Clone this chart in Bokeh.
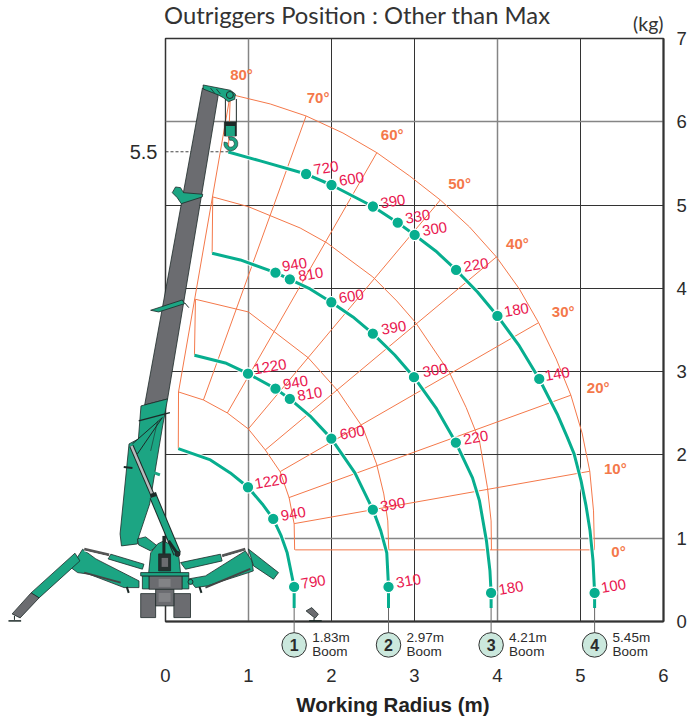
from bokeh.embed import file_html
from bokeh.resources import INLINE
from bokeh.plotting import figure
from bokeh.models import LinearAxis, FixedTicker, Grid, Range1d
from bokeh.core.properties import value

# ---------- chart values (metres) ----------
chart_title = "Outriggers Position : Other than Max"
x_ticks = [0, 1, 2, 3, 4, 5, 6]
y_ticks = [0, 1, 2, 3, 4, 5, 6, 7]
hook_height_mark = 5.64
hook_height_label = "5.5"
hook_radius = 0.757

boom_names = ["1", "2", "3", "4"]
boom_lengths = ["1.83m", "2.97m", "4.21m", "5.45m"]
boom_radius = [1.55, 2.687, 3.923, 5.17]
boom_badge_y = [-0.281, -0.281, -0.281, -0.281]

arc1_x = [.154, .541, .781, .994, 1.166, 1.298, 1.394, 1.466, 1.55, 1.55]
arc1_y = [2.076, 1.94, 1.784, 1.612, 1.412, 1.232, 1.028, .824, .415, .163]
arc2_x = [.349, .721, .994, 1.325, 1.498, 1.754, 1.998, 2.282, 2.498, 2.594, 2.666, 2.687, 2.687]
arc2_y = [3.197, 3.104, 2.976, 2.796, 2.672, 2.456, 2.196, 1.784, 1.343, 1.088, .824, .415, .163]
arc3_x = [.562, .902, 1.325, 1.498, 1.742, 1.998, 2.258, 2.498, 2.762, 2.994, 3.267, 3.498, 3.699, 3.783, 3.867, 3.909, 3.923, 3.923]
arc3_y = [4.421, 4.341, 4.188, 4.109, 3.993, 3.833, 3.657, 3.456, 3.2, 2.933, 2.552, 2.148, 1.724, 1.448, .968, .607, .343, .163]
arc4_x = [.757, 1.142, 1.694, 2.0, 2.499, 2.798, 3.002, 3.255, 3.501, 3.759, 3.999, 4.263, 4.503, 4.719, 4.839, 4.923, 5.007, 5.067, 5.115, 5.151, 5.17, 5.17]
arc4_y = [5.637, 5.53, 5.373, 5.241, 4.983, 4.789, 4.641, 4.449, 4.221, 3.957, 3.669, 3.309, 2.912, 2.492, 2.216, 2.012, 1.688, 1.388, 1.088, .727, .343, .163]

point_x = [.994, 1.298, 1.55,
           .994, 1.325, 1.498, 1.998, 2.498, 2.687,
           1.325, 1.498, 1.998, 2.498, 2.994, 3.498, 3.923,
           1.694, 2.0, 2.499, 2.798, 3.002, 3.501, 3.999, 4.503, 5.17]
point_y = [1.612, 1.232, .415,
           2.976, 2.796, 2.672, 2.196, 1.343, .415,
           4.188, 4.109, 3.833, 3.456, 2.933, 2.148, .343,
           5.373, 5.241, 4.983, 4.789, 4.641, 4.221, 3.669, 2.912, .343]
point_load = ["1220", "940", "790",
              "1220", "940", "810", "600", "390", "310",
              "940", "810", "600", "390", "300", "220", "180",
              "720", "600", "390", "330", "300", "220", "180", "140", "100"]
label_dx = [23, 20, 19,
            22, 20, 20, 21, 20, 20,
            19, 21, 20, 21, 21, 20, 20,
            20, 20, 20, 20, 20, 20, 19, 18, 19]
label_dy = [-6, -5, -5,
            -7, -6, -5, -6, -5, -6,
            -8, -5, -6, -6, -7, -5, -5,
            -6, -6, -5, -6, -6, -5, -6, -5, -7]

angle_names = ["0°", "10°", "20°", "30°", "40°", "50°", "60°", "70°", "80°"]
angle_x = [5.371, 5.283, 5.076, 4.655, 4.103, 3.407, 2.594, 1.702, .779]
angle_y = [.836, 1.836, 2.804, 3.72, 4.541, 5.262, 5.842, 6.289, 6.562]
spoke_x0 = [1.562, 1.55, 1.486, 1.382, 1.202, .998, .745, .457, .157]
spoke_y0 = [.86, 1.175, 1.487, 1.8, 2.06, 2.312, 2.504, 2.66, 2.756]
spoke_x1 = [5.168, 5.112, 4.884, 4.495, 3.987, 3.311, 2.546, 1.694, .781]
spoke_y1 = [.86, 1.804, 2.717, 3.588, 4.377, 5.061, 5.629, 6.07, 6.33]

guide1_x = [.154, .157, .457, .745, .998, 1.202, 1.382, 1.49, 1.55, 1.556]
guide1_y = [2.076, 2.756, 2.66, 2.504, 2.312, 2.06, 1.797, 1.484, 1.172, .86]
guide2_x = [.349, .361, .998, 1.298, 1.718, 2.078, 2.378, 2.543, 2.63, 2.678, 2.69]
guide2_y = [3.197, 3.869, 3.717, 3.489, 3.168, 2.768, 2.328, 1.892, 1.532, 1.208, .86]
guide3_x = [.562, .569, .998, 1.622, 1.946, 2.498, 2.786, 3.014, 3.422, 3.623, 3.783, 3.879, 3.923, 3.927]
guide3_y = [4.421, 5.098, 4.981, 4.725, 4.545, 4.137, 3.849, 3.588, 2.988, 2.568, 2.168, 1.607, 1.208, .86]
guide4_x = [.757, .781, 1.262, 1.694, 2.138, 2.546, 2.942, 3.311, 3.663, 3.987, 4.263, 4.495, 4.707, 4.884, 5.019, 5.112, 5.157, 5.168]
guide4_y = [5.637, 6.33, 6.214, 6.07, 5.865, 5.629, 5.349, 5.061, 4.737, 4.377, 3.993, 3.588, 3.152, 2.717, 2.264, 1.804, 1.328, .86]

# ---------- styles ----------
GREEN = "#07AE8F"
RED = "#E9174F"
ORANGE = "#F4784A"
INK = "#2B2B2B"
GRIDDARK = "#333333"
GRIDGREY = "#858585"
BODY = "#1CA583"
STEEL = "#6B6C70"
OUT = "#1D2A28"
SANS = "Liberation Sans"

p = figure(width=689, height=720, output_backend="svg", toolbar_location=None,
           x_range=Range1d(0, 6), y_range=Range1d(0, 7), y_axis_location="right",
           min_border_left=165, min_border_right=24, min_border_top=38, min_border_bottom=99,
           background_fill_color="white", border_fill_color="white")
p.grid.visible = False
p.outline_line_color = GRIDDARK
p.outline_line_width = 1.5

for dim, dark, grey in [(0, [2, 3, 5], [1, 4]), (1, [2, 3, 4, 5], [1, 6])]:
    p.add_layout(Grid(dimension=dim, ticker=FixedTicker(ticks=dark), grid_line_color=GRIDDARK, grid_line_width=1))
    p.add_layout(Grid(dimension=dim, ticker=FixedTicker(ticks=grey), grid_line_color=GRIDGREY, grid_line_width=1.5))

xax = p.xaxis[0]
xax.ticker = FixedTicker(ticks=x_ticks)
xax.major_tick_line_color = None
xax.minor_tick_line_color = None
xax.major_tick_out = 0
xax.major_tick_in = 0
xax.axis_line_color = GRIDDARK
xax.axis_line_width = 2
xax.major_label_standoff = 47
xax.major_label_text_font = SANS
xax.major_label_text_font_size = "18.5px"
xax.major_label_text_color = INK

yax = p.yaxis[0]
yax.ticker = FixedTicker(ticks=y_ticks)
yax.major_tick_line_color = None
yax.minor_tick_line_color = None
yax.major_tick_out = 0
yax.major_tick_in = 0
yax.axis_line_color = GRIDDARK
yax.axis_line_width = 2
yax.major_label_standoff = 13
yax.major_label_text_font = SANS
yax.major_label_text_font_size = "18.5px"
yax.major_label_text_color = INK

left = LinearAxis(ticker=FixedTicker(ticks=[hook_height_mark]),
                  major_label_overrides={hook_height_mark: hook_height_label},
                  axis_line_color=None, major_tick_line_color=None, minor_tick_line_color=None,
                  major_tick_out=0, major_tick_in=0,
                  major_label_standoff=8, major_label_text_font=SANS,
                  major_label_text_font_size="20px", major_label_text_color=INK)
p.add_layout(left, "left")

# guide web
p.segment(spoke_x0, spoke_y0, spoke_x1, spoke_y1, line_color=ORANGE, line_width=1)
for gx, gy in [(guide1_x, guide1_y), (guide2_x, guide2_y), (guide3_x, guide3_y), (guide4_x, guide4_y)]:
    p.line(gx, gy, line_color=ORANGE, line_width=1)

p.segment([0], [hook_height_mark], [hook_radius], [hook_height_mark], line_color="#444444", line_width=1, line_dash="3 2")

# working radius arcs
for ax, ay in [(arc1_x, arc1_y), (arc2_x, arc2_y), (arc3_x, arc3_y), (arc4_x, arc4_y)]:
    p.line(ax, ay, line_color="white", line_width=5, line_alpha=0.85)
for ax, ay in [(arc1_x, arc1_y), (arc2_x, arc2_y), (arc3_x, arc3_y), (arc4_x, arc4_y)]:
    p.line(ax, ay, line_color=GREEN, line_width=3, line_join="round")

p.scatter(point_x, point_y, size=11.5, fill_color=GREEN, line_color="white", line_width=1.2)
p.text(point_x, point_y, text=point_load, x_offset=label_dx, y_offset=label_dy, angle=0.17,
       text_align="center", text_baseline="middle", text_color=RED,
       text_font=value(SANS), text_font_size="15px")
p.text(angle_x, angle_y, text=angle_names, text_align="left", text_baseline="middle",
       text_color=ORANGE, text_font=value(SANS), text_font_style="bold", text_font_size="15px")
p.text([6.0], [7.18], text=["(kg)"], text_align="right", text_baseline="middle",
       text_color="#333333", text_font=value("Lato"), text_font_size="19.5px", level="overlay")
p.text([-0.017], [7.28], text=[chart_title], text_align="left", text_baseline="middle",
       text_color="#333333", text_font=value("Lato"), text_font_size="23.8px", level="overlay")

# ---------- crane illustration (traced outline, reference picture pixels -> metres) ----------
def mx(v):
    return [(a - 164.9) / 83.3 for a in v]
def my(v):
    return [(620.6 - a) / 83.3 for a in v]

def poly(pts, fill, line=OUT, w=0.8):
    p.patch(mx(pts[0::2]), my(pts[1::2]), fill_color=fill, line_color=line, line_width=w, level="overlay")
def seg(pts, color=OUT, w=1.0):
    p.line(mx(pts[0::2]), my(pts[1::2]), line_color=color, line_width=w, level="overlay")
def dot(cx, cy, size, fill=BODY, line=OUT, w=1.0):
    p.scatter(mx([cx]), my([cy]), size=size, fill_color=fill, line_color=line, line_width=w, level="overlay")

# pendant pad near the 1.83 m mark
poly([306, 610, 311.7, 606.7, 318.3, 613.3, 315, 617.3], STEEL)
seg([314, 617, 314, 620]); seg([309, 620, 321.7, 620], w=1.5)

# upper boom and hook
poly([202, 87, 218, 93, 167, 398, 144, 404], STEEL)
poly([171.7, 191.7, 175, 186, 180, 186.7, 183, 191.7, 202.3, 193.3, 201.7, 196, 180.7, 202.7, 176.7, 196.7], BODY)
poly([150, 309.3, 181.7, 299, 184, 302.7, 158, 311], BODY)
seg([184, 301.7, 188.3, 306.7])
seg([225, 98, 225, 121], w=1); seg([236, 98, 236, 121], w=1)
poly([202.7, 84, 230, 89.3, 235, 93, 234.3, 98.3, 228, 100.7, 223, 96.7, 218, 94, 202.7, 88], BODY)
seg([210, 87, 214, 92], w=0.8); seg([216, 88, 220, 93], w=0.8)
dot(229.5, 94, 7)
poly([224, 121, 236, 121, 236, 135, 224, 135], OUT)
poly([225.5, 125, 234.5, 125, 234.5, 135, 225.5, 135], BODY, line=None)
p.annular_wedge(mx([230.5]), my([142.7]), inner_radius=3.5, outer_radius=7, inner_radius_units="screen",
                outer_radius_units="screen", start_angle=2.9, end_angle=1.9, fill_color=BODY,
                line_color=OUT, line_width=0.6, level="overlay")

# lower boom
poly([140.3, 405, 167, 398, 162, 425, 149, 503, 138.3, 535, 136.7, 543, 120.7, 545, 119.3, 533, 128.3, 443, 137.7, 438], BODY)
seg([161.7, 416.7, 131.7, 443]); seg([161.7, 416.7, 136.7, 453]); seg([157, 420, 150, 450], w=0.6)
seg([138, 420, 169.3, 411.7], w=1.4)
seg([123, 466, 131.7, 467], w=2); seg([153.3, 471.7, 159.3, 474], BODY, w=3)

# outrigger left
poly([107.3, 558, 110, 553.3, 143.3, 563.3, 141.7, 568.3], BODY)
poly([81.7, 548.3, 95, 558, 138.3, 580, 138.3, 586.7, 123.3, 586.7, 88.3, 573.3, 76.7, 571.7, 70, 566.7], BODY)
poly([74, 552.3, 79, 560, 38, 597, 30, 592], BODY)
poly([30, 592, 38, 597, 19, 617, 11, 613], STEEL)
for fx, fy in [(31, 598), (26, 603), (21, 608), (16, 612)]:
    dot(fx, fy, 2.5, fill="#333333", w=0.3)
seg([83.3, 548.3, 108.3, 554], "#555555", 3); seg([83.3, 550, 108.3, 556], "white", 1)
seg([83.3, 571.7, 120, 581.7], "#444444", 2)
seg([13.3, 615, 13.3, 619]); seg([7.3, 620, 20, 620], w=1.5)
seg([126, 586, 128, 592], w=2)

# outrigger right
poly([180, 561.7, 220, 553.3, 221.7, 560, 185, 568.3], BODY)
seg([221.7, 555, 245, 548.3], "#555555", 3); seg([221.7, 557, 245, 550], "white", 1)
poly([188, 578, 205, 575, 245, 550, 251.7, 560, 253, 570, 248.3, 571.7, 206.7, 585, 195, 586.7], BODY)
poly([248, 548, 278.3, 571.7, 273.3, 578.3, 253.3, 565], BODY)
seg([205, 586.7, 250, 568], "#444444", 2)
seg([199, 586, 201, 592], w=2)

# turret and ram
poly([136.7, 538, 145, 536, 156.7, 545, 150, 550, 138, 544], BODY)
poly([148, 572, 150, 552, 157, 543, 163, 540, 172, 545, 178, 553, 180, 572], BODY)
seg([176.7, 553, 152.7, 496], OUT, 8); seg([176.7, 553, 152.7, 496], BODY, 6)
seg([152.7, 496, 130.7, 445], OUT, 4.5); seg([152.7, 496, 130.7, 445], "#B9BBBD", 2.5)
seg([150, 495, 156, 493], OUT, 4)
dot(130.7, 445, 8, fill=BODY)
dot(130.7, 445, 3, fill="white", w=0.5)
poly([158, 553, 170, 553, 170, 570, 158, 570], "#26302F")
poly([161, 557, 167.5, 557, 167.5, 566, 161, 566], STEEL, line=None)
seg([163.3, 535, 163.3, 553], OUT, 3); seg([168, 540, 177, 553], OUT, 3)
dot(177, 553, 5, fill="#26302F")

# chassis
poly([173.3, 592.7, 190, 592.7, 190, 616.7, 173.3, 616.7], STEEL)
poly([140, 592.7, 155, 592.7, 155, 616.7, 140, 616.7], STEEL)
poly([155, 588, 173.3, 588, 173.3, 605, 155, 605], STEEL)
poly([148.3, 575, 181.7, 575, 181.7, 588.3, 148.3, 588.3], STEEL)
poly([141.7, 575, 148.3, 575, 148.3, 588, 141.7, 588], BODY)
poly([181.7, 575, 188.3, 575, 188.3, 588, 181.7, 588], BODY)
poly([140, 571.7, 188.3, 571.7, 188.3, 575, 140, 575], BODY)
poly([158, 578, 170, 578, 170, 586, 158, 586], "#828386", line=None)
poly([158, 592, 170, 592, 170, 601, 158, 601], "#828386", line=None)
dot(139, 581, 5); dot(190, 581, 5)

# ---------- below the frame ----------
for bx in boom_radius:
    p.segment([bx], [.163], [bx], [-0.16], line_color="#666666", line_width=1, level="overlay")
p.scatter(boom_radius, boom_badge_y, size=24.5, fill_color="#CBE8DD", line_color="#333333", line_width=1, level="overlay")
p.text(boom_radius, boom_badge_y, text=boom_names, text_align="center", text_baseline="middle",
       text_color=INK, text_font=value(SANS), text_font_style="bold", text_font_size="16px", level="overlay")
p.text(boom_radius, boom_badge_y, text=boom_lengths, x_offset=[18, 18, 18, 18], y_offset=[-7, -7, -7, -7],
       text_align="left", text_baseline="middle", text_color=INK, text_font=value(SANS),
       text_font_size="13.5px", level="overlay")
p.text(boom_radius, boom_badge_y, text=["Boom"] * 4, x_offset=[18, 18, 18, 18], y_offset=[7, 7, 7, 7],
       text_align="left", text_baseline="middle", text_color=INK, text_font=value(SANS),
       text_font_size="13.5px", level="overlay")
p.text([2.74], [-1.0], text=["Working Radius (m)"], text_align="center", text_baseline="middle",
       text_color="#222222", text_font=value(SANS), text_font_style="bold", text_font_size="20.5px", level="overlay")

open("out.html", "w").write(file_html(p, INLINE))
